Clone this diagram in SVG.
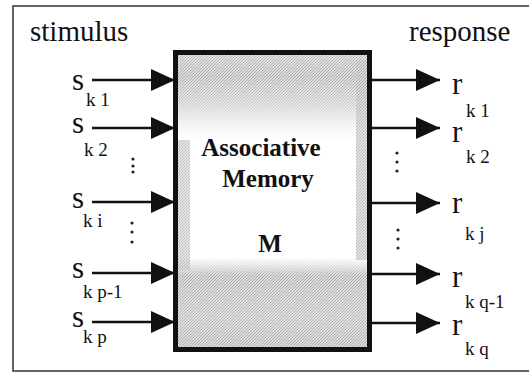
<svg xmlns="http://www.w3.org/2000/svg" width="529" height="372" viewBox="0 0 529 372">
  <style>
    .lbl { font-family: "Liberation Serif", "Times New Roman", serif; fill: #111; }
    .head { font-size: 29px; }
    .var { font-size: 31px; }
    .sub { font-size: 19px; }
    .title { font-family: "Liberation Serif", "Times New Roman", serif; font-weight: bold; font-size: 25px; fill: #111; text-anchor: middle; }
    .wire { stroke: #111; stroke-width: 2.5; fill: none; marker-end: url(#arrow); }
    .dot { fill: #222; }
  </style>
  <defs>
    <marker id="arrow" markerUnits="userSpaceOnUse" markerWidth="24" markerHeight="22" viewBox="0 0 23 21" refX="23" refY="10.5" orient="auto">
      <path d="M0,0 L23,10.5 L0,21 Z" fill="#111"/>
    </marker>
    <!-- halftone-like hatch used for the shaded parts of the memory block -->
    <pattern id="hatch" width="3" height="3" patternUnits="userSpaceOnUse">
      <rect width="3" height="3" fill="#dadada"/>
      <path d="M0,3 L3,0" stroke="#a4a4a4" stroke-width="1"/>
    </pattern>
    <linearGradient id="shadeProfile" x1="0" y1="52" x2="0" y2="350" gradientUnits="userSpaceOnUse">
      <stop offset="0" stop-color="#fff" stop-opacity="0.75"/>
      <stop offset="0.08" stop-color="#fff" stop-opacity="0.95"/>
      <stop offset="0.16" stop-color="#fff" stop-opacity="0.7"/>
      <stop offset="0.26" stop-color="#fff" stop-opacity="0.12"/>
      <stop offset="0.3" stop-color="#fff" stop-opacity="0"/>
      <stop offset="0.69" stop-color="#fff" stop-opacity="0"/>
      <stop offset="0.75" stop-color="#fff" stop-opacity="0.95"/>
      <stop offset="0.88" stop-color="#fff" stop-opacity="0.8"/>
      <stop offset="1" stop-color="#fff" stop-opacity="0.95"/>
    </linearGradient>
    <mask id="shadeMask" maskUnits="userSpaceOnUse" x="170" y="45" width="210" height="310">
      <rect x="170" y="45" width="210" height="310" fill="url(#shadeProfile)"/>
      <!-- side streaks down the middle of the block -->
      <rect x="178" y="140" width="12" height="130" fill="#fff" fill-opacity="0.7"/>
      <rect x="356" y="60" width="11" height="200" fill="#fff" fill-opacity="0.75"/>
    </mask>
  </defs>

  <!-- outer frame (open on the right) -->
  <path d="M529,6 H13 V371 H529" fill="none" stroke="#333" stroke-width="1.5"/>

  <text class="lbl head" x="30" y="41">stimulus</text>
  <text class="lbl head" x="409" y="41">response</text>

  <!-- memory block -->
  <g id="memory">
    <rect x="175.5" y="52.5" width="194" height="297" fill="#fff"/>
    <rect x="175.5" y="52.5" width="194" height="297" fill="url(#hatch)" mask="url(#shadeMask)"/>
    <rect x="175.5" y="52.5" width="194" height="297" fill="none" stroke="#111" stroke-width="5"/>
    <text class="title" x="261" y="156">Associative</text>
    <text class="title" x="268" y="187">Memory</text>
    <text class="title" x="270" y="252">M</text>
  </g>

  <!-- connectors -->
  <g id="connectors">
    <path class="wire" d="M92,80 H175"/>
    <path class="wire" d="M92,128 H175"/>
    <path class="wire" d="M92,202 H175"/>
    <path class="wire" d="M92,273 H175"/>
    <path class="wire" d="M92,322 H175"/>
    <path class="wire" d="M372,80 H440"/>
    <path class="wire" d="M372,128 H440"/>
    <path class="wire" d="M372,203 H440"/>
    <path class="wire" d="M372,274 H440"/>
    <path class="wire" d="M372,323 H440"/>
  </g>

  <!-- stimulus components -->
  <g id="s_k1"><text class="lbl var" x="72" y="90">s</text><text class="lbl sub" x="86" y="106">k 1</text></g>
  <g id="s_k2"><text class="lbl var" x="72" y="133">s</text><text class="lbl sub" x="84" y="156">k 2</text></g>
  <g id="s_ki"><text class="lbl var" x="72" y="208">s</text><text class="lbl sub" x="83" y="227">k i</text></g>
  <g id="s_kp1"><text class="lbl var" x="72" y="278">s</text><text class="lbl sub" x="83" y="298">k p-1</text></g>
  <g id="s_kp"><text class="lbl var" x="72" y="327">s</text><text class="lbl sub" x="83" y="343">k p</text></g>

  <!-- response components -->
  <g id="r_k1"><text class="lbl var" x="452" y="94">r</text><text class="lbl sub" x="466" y="117">k 1</text></g>
  <g id="r_k2"><text class="lbl var" x="452" y="142">r</text><text class="lbl sub" x="466" y="163">k 2</text></g>
  <g id="r_kj"><text class="lbl var" x="452" y="213">r</text><text class="lbl sub" x="465" y="240">k j</text></g>
  <g id="r_kq1"><text class="lbl var" x="452" y="287">r</text><text class="lbl sub" x="465" y="308">k q-1</text></g>
  <g id="r_kq"><text class="lbl var" x="452" y="335">r</text><text class="lbl sub" x="465" y="355">k q</text></g>

  <!-- ellipses -->
  <g id="dots">
    <circle class="dot" cx="133" cy="159" r="1.6"/>
    <circle class="dot" cx="133" cy="166" r="1.6"/>
    <circle class="dot" cx="133" cy="172" r="1.6"/>
    <circle class="dot" cx="132" cy="223" r="1.6"/>
    <circle class="dot" cx="132" cy="232" r="1.6"/>
    <circle class="dot" cx="132" cy="242" r="1.6"/>
    <circle class="dot" cx="397" cy="153" r="1.6"/>
    <circle class="dot" cx="397" cy="162" r="1.6"/>
    <circle class="dot" cx="397" cy="171" r="1.6"/>
    <circle class="dot" cx="398" cy="230" r="1.6"/>
    <circle class="dot" cx="398" cy="239" r="1.6"/>
    <circle class="dot" cx="398" cy="248" r="1.6"/>
  </g>
</svg>
